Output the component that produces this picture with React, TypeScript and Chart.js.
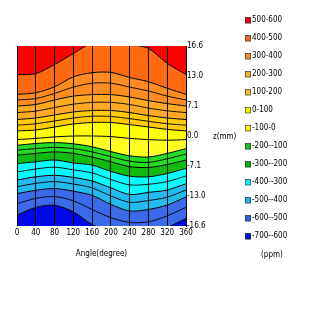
import { useEffect, useRef } from 'react';
import { Chart, registerables } from 'chart.js';

Chart.register(...registerables);

const FONT = "'Liberation Sans Narrow', 'DejaVu Sans Condensed', 'Liberation Sans', sans-serif";

const angles = [0, 40, 80, 120, 160, 200, 240, 280, 320, 360];
const zTickLabels = ['-16.6', '-13.0', '-7.1', '0.0', '7.1', '13.0', '16.6'];

const bandLabels = ['500-600', '400-500', '300-400', '200-300', '100-200', '0-100', '-100-0', '-200--100', '-300--200', '-400--300', '-500--400', '-600--500', '-700--600'];
const bandColors = ['#ff0000', '#ff6a10', '#ff8c1e', '#ffaa22', '#ffcc00', '#ffff00', '#ffff20', '#22dd22', '#10bb10', '#00ffff', '#22bbf0', '#3a6ae8', '#0008e8'];
const legendColors = ['#e00018', '#f06a20', '#f08a30', '#f0b030', '#f0c030', '#f0f000', '#f0f020', '#20c020', '#10b010', '#20e8f0', '#20b0e8', '#3060e0', '#0010d0'];

// colour-band contour boundaries, in z tick-index units (0 = -16.6 ... 6 = 16.6), at each angle
const cMinus600 = [0.36, 0.62, 0.69, 0.47, 0.05, -0.2, -0.3, -0.3, -0.05, 0.25];
const cMinus500 = [1.08, 1.19, 1.25, 1.16, 1.02, 0.72, 0.5, 0.55, 0.7, 0.97];
const cMinus400 = [1.53, 1.64, 1.69, 1.62, 1.5, 1.27, 1.05, 1.12, 1.2, 1.41];
const cMinus300 = [2.08, 2.14, 2.2, 2.1, 2.03, 1.82, 1.66, 1.64, 1.75, 1.92];
const cMinus200 = [2.36, 2.42, 2.47, 2.42, 2.3, 2.14, 1.98, 1.95, 2.05, 2.2];
const cMinus100 = [2.69, 2.75, 2.78, 2.74, 2.64, 2.48, 2.34, 2.3, 2.42, 2.58];
const c0 = [2.88, 2.92, 2.97, 3.0, 3.0, 2.98, 2.92, 2.88, 2.86, 2.88];
const c100 = [3.17, 3.2, 3.3, 3.4, 3.45, 3.45, 3.38, 3.3, 3.22, 3.17];
const c200 = [3.55, 3.6, 3.7, 3.8, 3.85, 3.85, 3.78, 3.68, 3.6, 3.55];
const c300 = [4.0, 4.05, 4.2, 4.33, 4.38, 4.38, 4.3, 4.18, 4.08, 4.0];
const c400 = [4.39, 4.44, 4.64, 4.97, 5.11, 5.12, 4.95, 4.81, 4.59, 4.39];
const c500 = [5.05, 5.08, 5.38, 5.75, 6.1, 6.15, 6.05, 5.92, 5.42, 5.05];
const ceiling = [7, 7, 7, 7, 7, 7, 7, 7, 7, 7];

// intermediate (50 ppm) contour lines
const cMinus550 = [0.74, 0.92, 0.98, 0.84, 0.55, 0.28, 0.12, 0.14, 0.34, 0.62];
const cMinus450 = [1.31, 1.42, 1.48, 1.4, 1.27, 1.0, 0.79, 0.85, 0.96, 1.2];
const cMinus350 = [1.8, 1.9, 1.96, 1.87, 1.77, 1.55, 1.37, 1.39, 1.48, 1.67];
const cMinus150 = [2.53, 2.58, 2.62, 2.58, 2.47, 2.31, 2.16, 2.12, 2.24, 2.4];
const c150 = [3.36, 3.41, 3.5, 3.6, 3.66, 3.65, 3.58, 3.49, 3.41, 3.36];
const c250 = [3.78, 3.83, 3.95, 4.06, 4.12, 4.12, 4.05, 3.93, 3.84, 3.78];
const c350 = [4.2, 4.25, 4.42, 4.63, 4.76, 4.76, 4.63, 4.5, 4.33, 4.2];

const bandContours = [cMinus600, cMinus500, cMinus400, cMinus300, cMinus200, cMinus100, c0, c100, c200, c300, c400, c500, ceiling];
const extraContours = [cMinus550, cMinus450, cMinus350, cMinus150, c150, c250, c350];

const overlay = {
  id: 'overlay',
  afterDraw(chart: any) {
    const ctx = chart.ctx;
    ctx.save();
    ctx.fillStyle = '#000';
    ctx.textBaseline = 'middle';
    ctx.textAlign = 'left';
    ctx.font = `8px ${FONT}`;
    ctx.fillText('z(mm)', 213, 137);
    bandLabels.forEach((label, i) => {
      const y = 20.3 + i * 18.0;
      ctx.fillStyle = legendColors[i];
      ctx.fillRect(245, y - 3, 6, 6);
      ctx.strokeStyle = '#333';
      ctx.lineWidth = 0.6;
      ctx.strokeRect(245.3, y - 2.7, 5.4, 5.4);
      ctx.fillStyle = '#000';
      ctx.fillText(label, 252, y);
    });
    ctx.fillText('(ppm)', 261, 255);
    ctx.restore();
  },
};

export default function App() {
  const ref = useRef<HTMLCanvasElement>(null);
  useEffect(() => {
    if (!ref.current) return;
    const n = bandContours.length;
    const bands = bandContours.map((c, i) => ({
      data: angles.map((a, j) => ({ x: a, y: c[j] })),
      borderColor: '#000',
      borderWidth: i === n - 1 ? 0 : 1,
      backgroundColor: bandColors[n - 1 - i],
      fill: i === 0 ? 'start' : '-1',
      pointRadius: 0,
      tension: 0.3,
      order: 1,
    }));
    const extras = extraContours.map((c) => ({
      data: angles.map((a, j) => ({ x: a, y: c[j] })),
      borderColor: '#000',
      borderWidth: 0.9,
      fill: false,
      pointRadius: 0,
      tension: 0.3,
      order: 0,
    }));
    const chart = new Chart(ref.current, {
      type: 'line',
      data: { datasets: [...bands, ...extras] as any },
      options: {
        animation: false,
        responsive: false,
        layout: { padding: { left: 17, top: 46, right: 98, bottom: 57 } },
        plugins: { legend: { display: false }, tooltip: { enabled: false } },
        scales: {
          x: {
            type: 'linear',
            min: 0,
            max: 360,
            z: 1,
            afterFit: (s: any) => { s.height = 33; },
            ticks: { stepSize: 40, padding: 2, color: '#000', font: { family: FONT, size: 8 }, maxRotation: 0 },
            grid: { color: '#000', lineWidth: 1, drawTicks: false, z: 1 },
            border: { display: false },
            title: { display: true, text: 'Angle(degree)', color: '#000', font: { family: FONT, size: 8 }, padding: 0 },
          },
          y: {
            type: 'linear',
            position: 'right',
            min: 0,
            max: 6,
            z: 1,
            afterFit: (s: any) => { s.width = 28; },
            ticks: { stepSize: 1, padding: 1, color: '#000', font: { family: FONT, size: 8 }, callback: (v: any) => zTickLabels[Math.round(v)] ?? '' },
            grid: { display: false, drawTicks: false },
            border: { display: true, color: '#000' },
          },
        },
      },
      plugins: [overlay],
    });
    return () => chart.destroy();
  }, []);
  return (
    <div style={{ position: 'fixed', left: 0, top: 0, width: 312, height: 316, background: '#fff' }}>
      <canvas ref={ref} width={312} height={316} style={{ width: 312, height: 316 }} />
    </div>
  );
}
